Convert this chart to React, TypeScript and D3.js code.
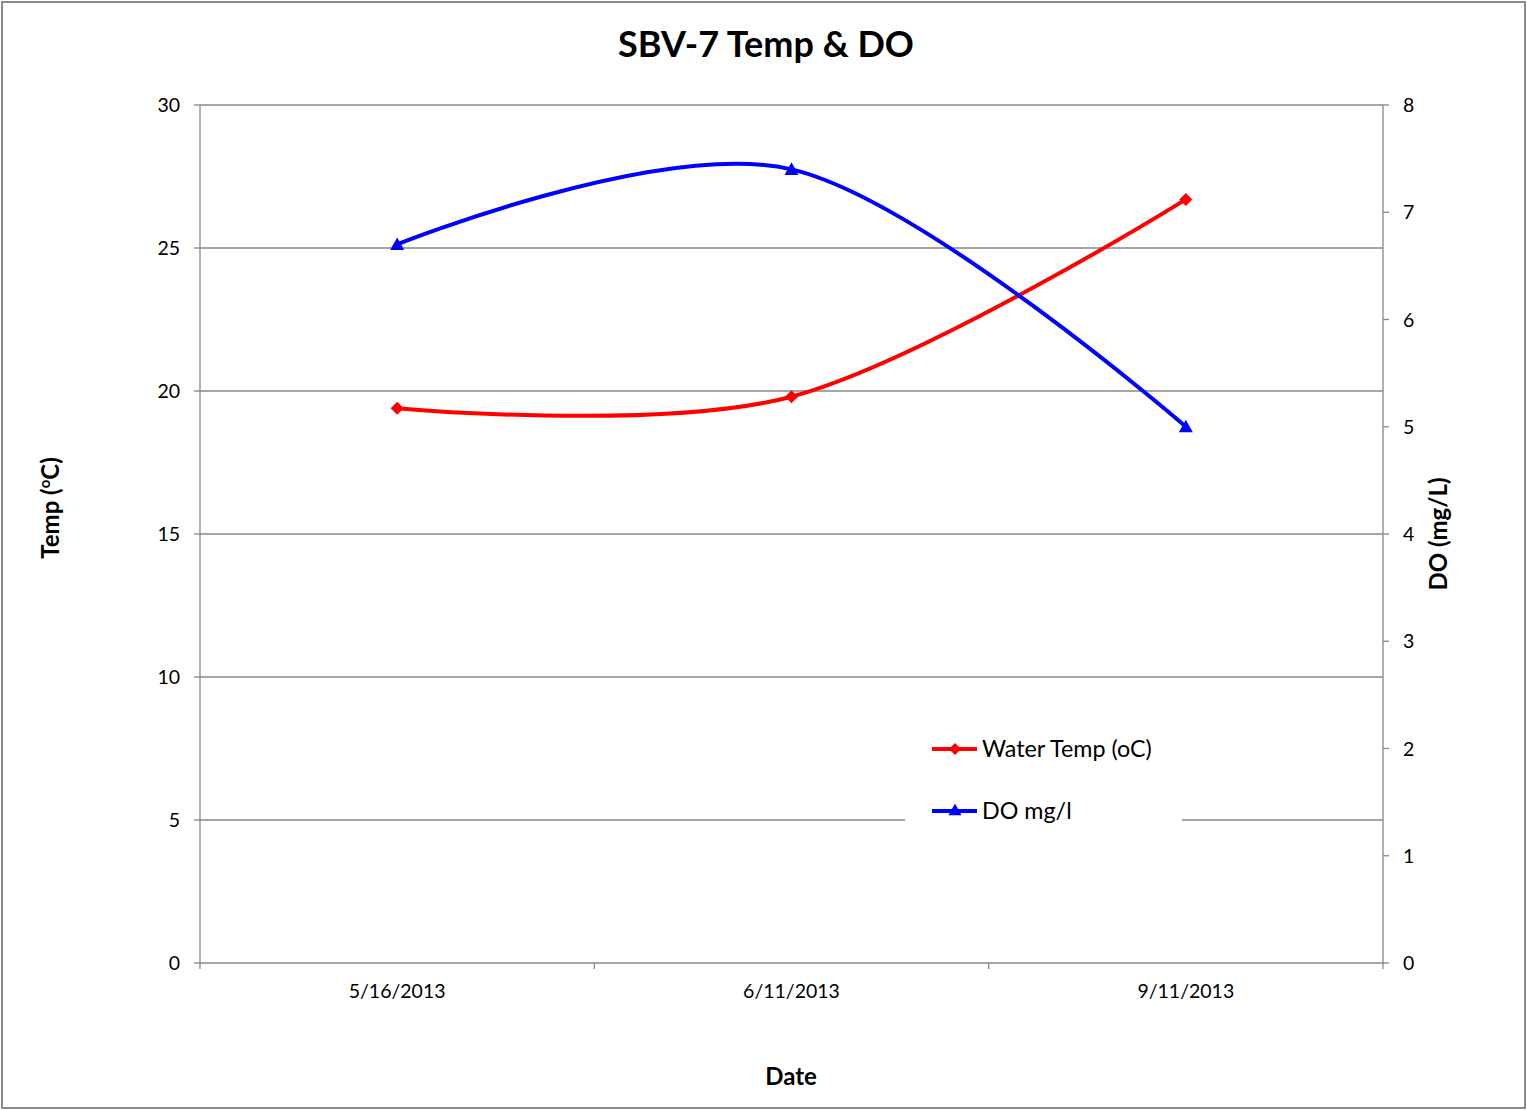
import React from "react";
import * as d3 from "d3";

const dates = ["5/16/2013", "6/11/2013", "9/11/2013"];
const waterTemp = [19.4, 19.8, 26.7];
const doMgL = [6.7, 7.4, 5.0];
const leftTicks = [0, 5, 10, 15, 20, 25, 30];
const rightTicks = [0, 1, 2, 3, 4, 5, 6, 7, 8];

const FONT = "Lato, 'Open Sans', sans-serif";

export default function App() {
  const W = 1527, H = 1110;
  const L = 200, R = 1383, T = 105, B = 963;
  const x = d3.scaleBand<string>().domain(dates).range([L, R]).padding(0);
  const cx = (d: string) => (x(d) as number) + x.bandwidth() / 2;
  const yL = d3.scaleLinear().domain([0, 30]).range([B, T]);
  const yR = d3.scaleLinear().domain([0, 8]).range([B, T]);
  const curve = d3.curveCardinal.tension(0);
  const tempPts: [number, number][] = dates.map((d, i) => [cx(d), yL(waterTemp[i])]);
  const doPts: [number, number][] = dates.map((d, i) => [cx(d), yR(doMgL[i])]);
  const line = d3.line().curve(curve);
  const grid = "#878787";
  const red = "#ff0000";
  const blue = "#0000ff";
  const diamond = (px: number, py: number, s = 6.5) =>
    `M${px},${py - s}L${px + s},${py}L${px},${py + s}L${px - s},${py}Z`;
  const tri = (px: number, py: number, s = 7) =>
    `M${px},${py - s}L${px + s},${py + s * 0.8}L${px - s},${py + s * 0.8}Z`;
  const boundaries = [...dates.map((d) => x(d) as number), R];

  return (
    <svg width={W} height={H} style={{ display: "block", position: "absolute", left: 0, top: 0 }} fontFamily={FONT}>
      <rect x={0} y={0} width={W} height={H} fill="#fff" />
      <rect x={2} y={2} width={1523} height={1106} fill="#fff" stroke="#8c8c8c" strokeWidth={2} />
      <text x={766} y={57} textAnchor="middle" fontSize={36} fontWeight="bold" fill="#000">SBV-7 Temp &amp; DO</text>
      {leftTicks.map((t) => (
        <line key={"g" + t} x1={L} x2={R} y1={yL(t)} y2={yL(t)} stroke={grid} strokeWidth={1.3} />
      ))}
      <line x1={L} x2={L} y1={T} y2={B} stroke={grid} strokeWidth={1.3} />
      <line x1={R} x2={R} y1={T} y2={B} stroke={grid} strokeWidth={1.3} />
      {leftTicks.map((t) => (
        <g key={"l" + t}>
          <line x1={L - 6} x2={L} y1={yL(t)} y2={yL(t)} stroke={grid} strokeWidth={1.3} />
          <text x={180} y={yL(t) + 7} textAnchor="end" fontSize={19.5} fill="#000">{t}</text>
        </g>
      ))}
      {rightTicks.map((t) => (
        <g key={"r" + t}>
          <line x1={R} x2={R + 6} y1={yR(t)} y2={yR(t)} stroke={grid} strokeWidth={1.3} />
          <text x={1403} y={yR(t) + 7} textAnchor="start" fontSize={19.5} fill="#000">{t}</text>
        </g>
      ))}
      {boundaries.map((b, i) => (
        <line key={"b" + i} x1={b} x2={b} y1={B} y2={B + 6} stroke={grid} strokeWidth={1.3} />
      ))}
      {dates.map((d) => (
        <text key={d} x={cx(d)} y={998} textAnchor="middle" fontSize={19.5} fill="#000">{d}</text>
      ))}
      <rect x={905} y={725} width={277} height={110} fill="#fff" />
      <path d={line(tempPts) || ""} fill="none" stroke={red} strokeWidth={4} />
      <path d={line(doPts) || ""} fill="none" stroke={blue} strokeWidth={4} />
      {tempPts.map(([px, py], i) => (
        <path key={"tm" + i} d={diamond(px, py)} fill={red} />
      ))}
      {doPts.map(([px, py], i) => (
        <path key={"dm" + i} d={tri(px, py)} fill={blue} />
      ))}
      <line x1={932} x2={977} y1={749} y2={749} stroke={red} strokeWidth={4} />
      <path d={diamond(955, 749, 6)} fill={red} />
      <text x={982} y={757} fontSize={23.3} fill="#000">Water Temp (oC)</text>
      <line x1={932} x2={977} y1={811} y2={811} stroke={blue} strokeWidth={4} />
      <path d={tri(955, 810, 6.5)} fill={blue} />
      <text x={982} y={819} fontSize={23.3} fill="#000">DO mg/l</text>
      <text x={791} y={1085} textAnchor="middle" fontSize={24} fontWeight="bold" fill="#000">Date</text>
      <text transform="translate(59,508) rotate(-90)" textAnchor="middle" fontSize={24} fontWeight="bold" fill="#000">
        Temp (<tspan fontSize={15} dy={-9}>o</tspan><tspan dy={9}>C)</tspan>
      </text>
      <text transform="translate(1447,534) rotate(-90)" textAnchor="middle" fontSize={24} fontWeight="bold" fill="#000">DO (mg/L)</text>
    </svg>
  );
}
